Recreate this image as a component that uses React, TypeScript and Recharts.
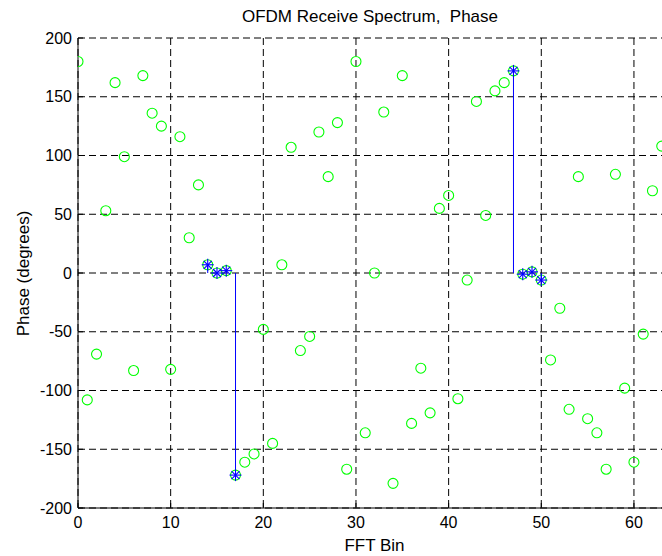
import React from 'react'
import { ComposedChart, Scatter, Line, XAxis, YAxis, CartesianGrid } from 'recharts'

// FFT bins 0..63 and the received phase (degrees) read for each bin
const bins = [
  0, 1, 2, 3, 4, 5, 6, 7, 8, 9, 10, 11, 12, 13, 14, 15,
  16, 17, 18, 19, 20, 21, 22, 23, 24, 25, 26, 27, 28, 29, 30, 31,
  32, 33, 34, 35, 36, 37, 38, 39, 40, 41, 42, 43, 44, 45, 46, 47,
  48, 49, 50, 51, 52, 53, 54, 55, 56, 57, 58, 59, 60, 61, 62, 63,
]
const phase = [
  180, -108, -69, 53, 162, 99, -83, 168, 136, 125, -82, 116, 30, 75, 7, 0,
  2, -172, -161, -154, -48, -145, 7, 107, -66, -54, 120, 82, 128, -167, 180, -136,
  0, 137, -179, 168, -128, -81, -119, 55, 66, -107, -6, 146, 49, 155, 162, 172,
  -1, 1, -6, -74, -30, -116, 82, -124, -136, -167, 84, -98, -161, -52, 70, 108,
]
// bins marked with blue asterisks + stems
const pilotBins = [14, 15, 16, 17, 47, 48, 49, 50]

const xTicks = [0, 10, 20, 30, 40, 50, 60]
const yTicks = [-200, -150, -100, -50, 0, 50, 100, 150, 200]

const FONT = '"Liberation Sans", Arial, Helvetica, sans-serif'

const allPoints = bins.map((b, i) => ({ x: b, y: phase[i] }))
const pilotPoints = pilotBins.map(b => ({ x: b, y: phase[bins.indexOf(b)] }))

function Ring(p: any) {
  if (p.cx == null || p.cy == null) return <g />
  return <circle cx={p.cx} cy={p.cy} r={5} fill="none" stroke="#00ff00" strokeWidth={1.1} />
}

function Star(p: any) {
  const { cx, cy } = p
  if (cx == null || cy == null) return <g />
  const a = 6
  const d = 4
  return (
    <g stroke="#0000ff" strokeWidth={1.1}>
      <line x1={cx - a} y1={cy} x2={cx + a} y2={cy} />
      <line x1={cx} y1={cy - a} x2={cx} y2={cy + a} />
      <line x1={cx - d} y1={cy - d} x2={cx + d} y2={cy + d} />
      <line x1={cx - d} y1={cy + d} x2={cx + d} y2={cy - d} />
    </g>
  )
}

const tickStyle = { fontSize: 16, fill: '#000', fontFamily: FONT }

export default function App() {
  return (
    <div style={{ position: 'absolute', left: 0, top: 0, width: 662, height: 556, overflow: 'hidden', background: '#fff' }}>
      <div style={{ position: 'absolute', left: 0, top: 8, width: 740, textAlign: 'center', fontFamily: FONT, fontSize: 17, lineHeight: '17px', whiteSpace: 'pre' }}>
        {'OFDM Receive Spectrum,  Phase'}
      </div>
      <div style={{ position: 'absolute', left: 0, top: 537, width: 749, textAlign: 'center', fontFamily: FONT, fontSize: 17, lineHeight: '17px' }}>
        FFT Bin
      </div>
      <div style={{ position: 'absolute', left: 23 - 100, top: 273 - 8.5, width: 200, textAlign: 'center', fontFamily: FONT, fontSize: 17, lineHeight: '17px', transform: 'rotate(-90deg)' }}>
        Phase (degrees)
      </div>

      <ComposedChart width={690} height={556} margin={{ top: 38, right: 19, bottom: 18, left: 18 }}>
        <CartesianGrid stroke="#000" strokeDasharray="7 4" />
        <XAxis
          type="number" dataKey="x" domain={[0, 64]} ticks={xTicks} allowDataOverflow
          height={30} stroke="#000" tick={tickStyle} tickSize={-5} tickMargin={14}
        />
        <XAxis
          xAxisId="top" orientation="top" type="number" dataKey="x" domain={[0, 64]} ticks={xTicks}
          height={0} stroke="#000" tick={false} tickSize={-5}
        />
        <YAxis
          type="number" dataKey="y" domain={[-200, 200]} ticks={yTicks} allowDataOverflow
          width={60} stroke="#000" tick={tickStyle} tickSize={-5} tickMargin={11}
        />

        <Scatter data={allPoints} dataKey="y" shape={Ring} isAnimationActive={false} />
        {pilotPoints.map(p => (
          <Line
            key={'stem' + p.x}
            data={[{ x: p.x, y: 0 }, p]}
            dataKey="y"
            type="linear"
            stroke="#0000ff"
            strokeWidth={1}
            dot={false}
            activeDot={false}
            isAnimationActive={false}
          />
        ))}
        <Scatter data={pilotPoints} dataKey="y" shape={Star} isAnimationActive={false} />
      </ComposedChart>
    </div>
  )
}
